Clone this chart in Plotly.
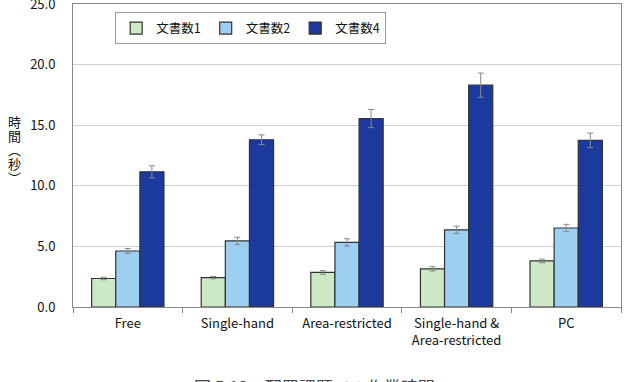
import plotly.graph_objects as go

categories = ["Free", "Single-hand", "Area-restricted", "Single-hand &<br>Area-restricted", "PC"]
series_names = ["文書数1", "文書数2", "文書数4"]
vals_1 = [2.35, 2.42, 2.85, 3.15, 3.8]
vals_2 = [4.62, 5.45, 5.33, 6.37, 6.52]
vals_4 = [11.15, 13.8, 15.55, 18.3, 13.75]
err_1 = [0.1, 0.1, 0.15, 0.18, 0.15]
err_2 = [0.2, 0.3, 0.3, 0.3, 0.3]
err_4 = [0.5, 0.4, 0.75, 1.0, 0.6]
colors = ["#CDE8C5", "#9CCFF0", "#1C3A9E"]
y_ticks = [0, 5, 10, 15, 20, 25]
y_label_chars = ["時", "間", "︵", "秒", "︶"]

FONT = "Noto Sans CJK JP"
fig = go.Figure()
for name, v, e, c in zip(series_names, [vals_1, vals_2, vals_4], [err_1, err_2, err_4], colors):
    fig.add_trace(go.Bar(
        name=name, x=categories, y=v, marker=dict(color=c, line=dict(color="#333", width=1.2)),
        error_y=dict(type="data", array=e, color="#888", thickness=1, width=3),
    ))

fig.update_layout(
    width=626, height=382, margin=dict(l=73, r=5, t=4, b=75, autoexpand=False),
    paper_bgcolor="white", plot_bgcolor="white",
    barmode="group", bargap=0.34, bargroupgap=0,
    font=dict(family=FONT, size=13, color="#111"),
    showlegend=True,
    legend=dict(orientation="h", x=0.077, y=0.972, xanchor="left", yanchor="top",
                bordercolor="#999", borderwidth=1, bgcolor="white",
                font=dict(family=FONT, size=12.5), itemwidth=30, tracegroupgap=0),
    xaxis=dict(showline=True, linecolor="#888", linewidth=1, mirror=True,
               ticks="outside", tickson="boundaries", ticklen=5, tickcolor="#888",
               tickfont=dict(family=FONT, size=13), ticklabelstandoff=4, automargin=False),
    yaxis=dict(range=[0, 25], tickvals=y_ticks, tickformat=".1f",
               showline=True, linecolor="#888", linewidth=1, mirror=True,
               showgrid=True, gridcolor="#D0D0D0", gridwidth=1, ticks="",
               tickfont=dict(family=FONT, size=13), zeroline=False, automargin=False,
               ticklabelstandoff=14, ticklabeloverflow="allow"),
)
for i, ch in enumerate(y_label_chars):
    fig.add_annotation(text=ch, xref="paper", yref="paper",
                       x=-0.106, y=(307 - 121 - i * 14) / 303, xanchor="center", yanchor="middle",
                       showarrow=False, font=dict(family=FONT, size=13, color="#111"))
fig.add_annotation(text="図 5.13　配置課題での作業時間", xref="paper", yref="paper",
                   x=0.44, y=-0.215, xanchor="center", yanchor="top", showarrow=False,
                   font=dict(family=FONT, size=17, color="#444"))
fig.write_html("out.html")
